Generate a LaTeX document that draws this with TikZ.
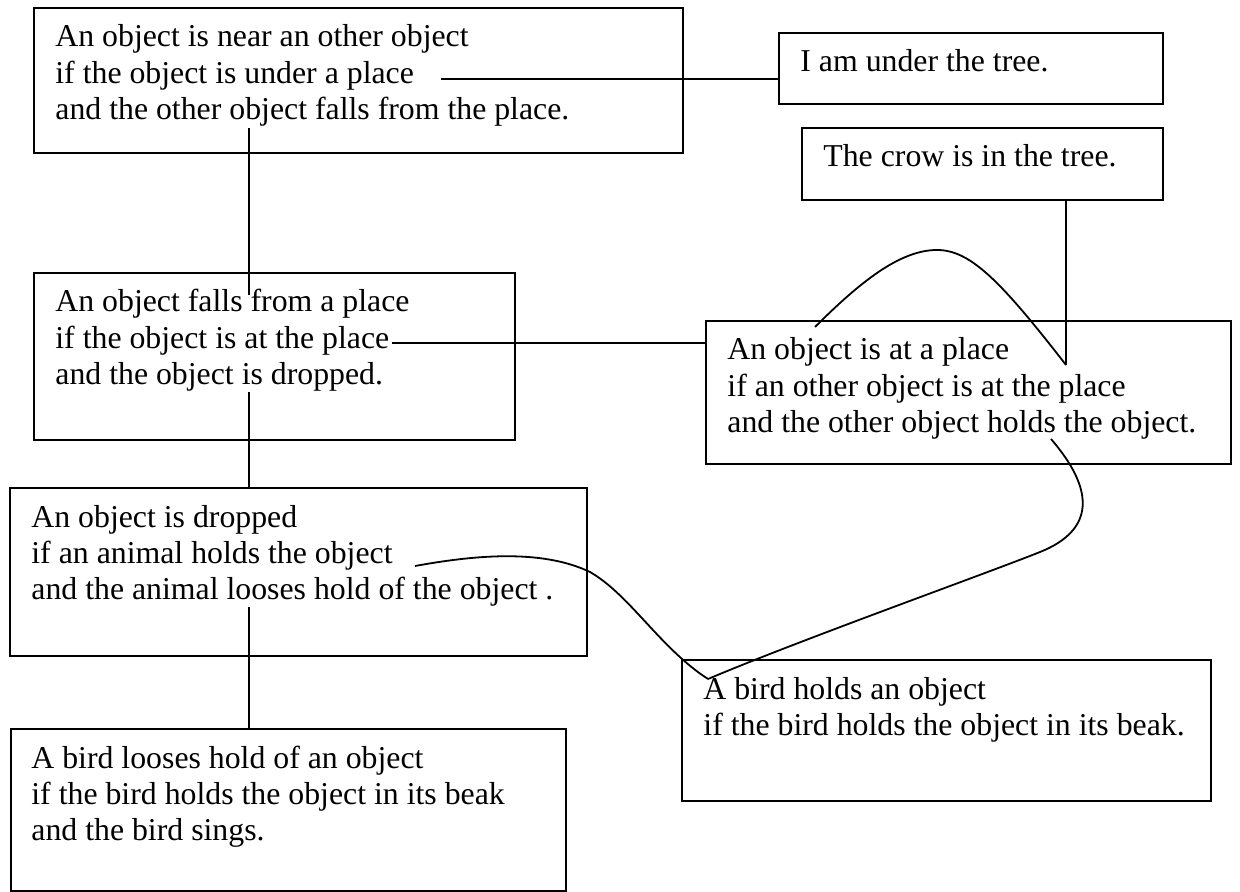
\documentclass[tikz,border=0pt]{standalone}
\usepackage{fontspec}
\setmainfont{Liberation Serif}
\begin{document}
\begin{tikzpicture}[x=0.5pt,y=-0.5pt,
  box/.style={draw, line width=0.9pt, inner sep=0pt, anchor=north west},
  txt/.style={inner sep=0pt, anchor=base west, font=\fontsize{15.9}{18.15}\selectfont},
  link/.style={line width=0.9pt}]
\useasboundingbox[fill=white] (0,0) rectangle (1240,892);
% boxes
\node[box, minimum width=324.5pt, minimum height=72.5pt] (A) at (33,7) {};
\node[box, minimum width=192pt, minimum height=35.5pt] (B) at (778,32) {};
\node[box, minimum width=180.5pt, minimum height=36pt] (C) at (801,127) {};
\node[box, minimum width=240.5pt, minimum height=83.5pt] (D) at (33,272) {};
\node[box, minimum width=262.5pt, minimum height=71.5pt] (E) at (705,320) {};
\node[box, minimum width=288.5pt, minimum height=84pt] (F) at (9,487) {};
\node[box, minimum width=264.5pt, minimum height=70.5pt] (G) at (681,659) {};
\node[box, minimum width=277.5pt, minimum height=81pt] (H) at (10,728) {};
% texts
\node[txt] (At) at (55,47) {\vtop{\hbox{An object is near an other object}\hbox{if the object is under a place}\hbox{and the other object falls from the place.}}};
\node[txt] (Bt) at (800,72) {I am under the tree.};
\node[txt] (Ct) at (823,167) {The crow is in the tree.};
\node[txt] (Dt) at (55,312) {\vtop{\hbox{An object falls from a place}\hbox{if the object is at the place}\hbox{and the object is dropped.}}};
\node[txt] (Et) at (727,360) {\vtop{\hbox{An object is at a place}\hbox{if an other object is at the place}\hbox{and the other object holds the object.}}};
\node[txt] (Ft) at (31,527) {\vtop{\hbox{An object is dropped}\hbox{if an animal holds the object}\hbox{and the animal looses hold of the object .}}};
\node[txt] (Gt) at (703,699) {\vtop{\hbox{A bird holds an object}\hbox{if the bird holds the object in its beak.}}};
\node[txt] (Ht) at (31,768) {\vtop{\hbox{A bird looses hold of an object}\hbox{if the bird holds the object in its beak}\hbox{and the bird sings.}}};
% connector end points
\coordinate (a1) at (441,79);
\coordinate (a2) at (249,128);
\coordinate (d1) at (249,295);
\coordinate (d2) at (392,343);
\coordinate (d3) at (249,392);
\coordinate (f2) at (249,607);
\coordinate (e1) at (1066,365);
\coordinate (e2) at (815,327);
\coordinate (e3) at (1051,439);
\coordinate (f1) at (415,566);
\coordinate (g1) at (708,679);
% connectors
\draw[link] (a1) -- (a1 -| B.west);
\draw[link] (a2) -- (d1);
\draw[link] (d2) -- (d2 -| E.west);
\draw[link] (d3) -- (d3 |- F.north);
\draw[link] (f2) -- (f2 |- H.north);
\draw[link] (e1 |- C.south) -- (e1);
\draw[link] (e2) .. controls (860,282) and (900,250) .. (937,250)
               .. controls (970,250) and (1000,280) .. (e1);
\draw[link] (e3) .. controls (1095,490) and (1095,530) .. (1040,552)
               .. controls (985,574) and (800,640) .. (g1);
\draw[link] (f1) .. controls (470,556) and (540,548) .. (590,572)
               .. controls (630,595) and (660,648) .. (g1);
\end{tikzpicture}
\end{document}
